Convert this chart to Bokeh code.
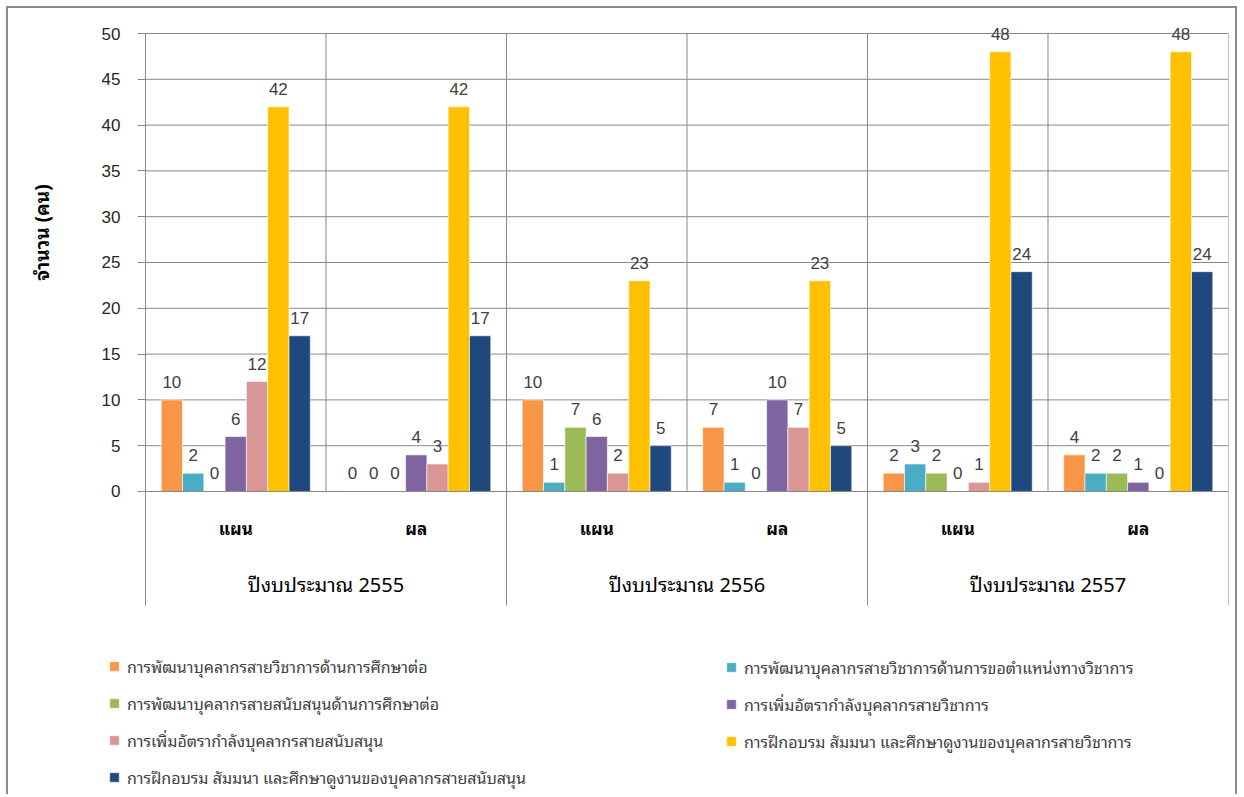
import math
from bokeh.plotting import figure
from bokeh.models import (Range1d, FixedTicker, Legend, LegendItem, Label, ColumnDataSource)
from bokeh.core.properties import value
from bokeh.embed import file_html
from bokeh.resources import INLINE

# ---------------- data ----------------
years = ["ปีงบประมาณ 2555", "ปีงบประมาณ 2556", "ปีงบประมาณ 2557"]
phases = ["แผน", "ผล"]
series_names = [
    "การพัฒนาบุคลากรสายวิชาการด้านการศึกษาต่อ",
    "การพัฒนาบุคลากรสายวิชาการด้านการขอตำแหน่งทางวิชาการ",
    "การพัฒนาบุคลากรสายสนับสนุนด้านการศึกษาต่อ",
    "การเพิ่มอัตรากำลังบุคลากรสายวิชาการ",
    "การเพิ่มอัตรากำลังบุคลากรสายสนับสนุน",
    "การฝึกอบรม สัมมนา และศึกษาดูงานของบุคลากรสายวิชาการ",
    "การฝึกอบรม สัมมนา และศึกษาดูงานของบุคลากรสายสนับสนุน",
]
# order of values: 2555 แผน, 2555 ผล, 2556 แผน, 2556 ผล, 2557 แผน, 2557 ผล
s_acad_study = [10, 0, 10, 7, 2, 4]
s_acad_position = [2, 0, 1, 1, 3, 2]
s_support_study = [0, 0, 7, 0, 2, 2]
s_acad_hire = [6, 4, 6, 10, 0, 1]
s_support_hire = [12, 3, 2, 7, 1, 0]
s_acad_train = [42, 42, 23, 23, 48, 48]
s_support_train = [17, 17, 5, 5, 24, 24]
y_ticks = [0, 5, 10, 15, 20, 25, 30, 35, 40, 45, 50]
y_title = "จำนวน (คน)"

series_values = [s_acad_study, s_acad_position, s_support_study, s_acad_hire,
                 s_support_hire, s_acad_train, s_support_train]
colors = ["#F79646", "#4BACC6", "#9BBB59", "#8064A2", "#DA9694", "#FFC000", "#1F497D"]

# ---------------- layout helpers ----------------
THAI = "Noto Sans Thai Looped, Loma, Garuda, Tlwg Typo, Noto Sans Thai, sans-serif"
NUM = "Liberation Sans"
GRID = "#888888"

n_sub = len(phases)
n_cat = len(years) * n_sub
cat_labels = [ph for _ in years for ph in phases]
cat_centers = [i + 0.5 for i in range(n_cat)]
grp_centers = [g * n_sub + n_sub / 2 for g in range(len(years))]

Y_MAX = max(y_ticks)
X_START = -0.759      # room left of the first category for the axis/title/legend
Y_END = 52.73         # room above the top grid line for value labels
Y_START = -33.3       # room below for category labels and legend

p = figure(
    x_range=Range1d(X_START, n_cat),
    y_range=Range1d(Y_START, Y_END),
    width=1231, height=788,
    output_backend="svg", toolbar_location=None,
    x_axis_location=None,
    min_border_left=0, min_border_top=0, min_border_right=11, min_border_bottom=0,
)
p.styles = {"margin-left": "6px", "margin-top": "6px",
            "border-top": "2px solid #8c8c8c", "border-left": "2px solid #8c8c8c",
            "border-right": "2px solid #8c8c8c"}
p.outline_line_color = None
p.background_fill_color = "white"
p.border_fill_color = "white"
p.grid.visible = False

yax = p.yaxis[0]
yax.fixed_location = 0
yax.ticker = FixedTicker(ticks=y_ticks)
yax.axis_line_color = None
yax.major_tick_out = 8
yax.major_tick_in = 0
yax.minor_tick_line_color = None
yax.major_tick_line_color = GRID
yax.major_label_text_font = NUM
yax.major_label_text_font_size = "17px"
yax.major_label_text_color = "#262626"
yax.major_label_standoff = 17

# horizontal grid lines
p.segment(x0=[0] * len(y_ticks), x1=[n_cat] * len(y_ticks), y0=y_ticks, y1=y_ticks,
          line_color=GRID, line_width=1)

# vertical separators at category boundaries
bounds = list(range(n_cat + 1))
inner = [b for b in bounds if b % n_sub != 0]
outer = [b for b in bounds if b % n_sub == 0]
p.segment(x0=inner, x1=inner, y0=[0] * len(inner), y1=[Y_MAX] * len(inner),
          line_color=GRID, line_width=1)
AXIS_EXT = -12.45
p.segment(x0=outer, x1=outer, y0=[AXIS_EXT] * len(outer), y1=[Y_MAX] * len(outer),
          line_color=GRID, line_width=1)

# bars + value labels
nser = len(series_values)
bw = 0.118
renderers = []
for i, (vals, col) in enumerate(zip(series_values, colors)):
    off = (i - (nser - 1) / 2) * bw
    src = ColumnDataSource(dict(x=[c + off for c in cat_centers], top=vals,
                                label=[str(v) for v in vals]))
    r = p.vbar(x="x", top="top", width=bw, source=src,
               fill_color=col, line_color="white", line_width=0.6)
    renderers.append(r)
    p.text(x="x", y="top", text="label", source=src,
           text_align="center", text_baseline="middle", y_offset=-18,
           text_font=value(NUM), text_font_size="17px", text_color="#404040")

# value axis base line drawn on top of the bars
p.segment(x0=[0], x1=[n_cat], y0=[0], y1=[0], line_color=GRID, line_width=1)

# category labels
p.text(x=cat_centers, y=[-3.93] * n_cat, text=cat_labels,
       text_align="center", text_baseline="middle", text_font=value(THAI),
       text_font_size="17px", text_font_style="bold", text_color="#000000")
p.text(x=grp_centers, y=[-10.04] * len(years), text=years,
       text_align="center", text_baseline="middle", text_font=value(THAI),
       text_font_size="20px", text_color="#000000")

# y-axis title
p.add_layout(Label(x=-0.58, y=28.27, text=y_title, angle=math.pi / 2,
                   text_align="center", text_baseline="middle",
                   text_font=THAI, text_font_size="19px", text_font_style="bold",
                   text_color="#000000"))

# legends (two columns)
def make_legend(idxs, loc):
    return Legend(items=[LegendItem(label=series_names[i], renderers=[renderers[i]]) for i in idxs],
                  location=loc, orientation="vertical",
                  glyph_width=12, glyph_height=12, label_standoff=7,
                  label_text_font=THAI, label_text_font_size="16px",
                  label_text_color="#404040", label_height=20, spacing=11,
                  padding=0, margin=0, border_line_color=None,
                  background_fill_alpha=0)

p.add_layout(make_legend([0, 2, 4, 6], (100, 6)))
p.add_layout(make_legend([1, 3, 5], (717, 42)))

open("out.html", "w").write(file_html(p, INLINE))
